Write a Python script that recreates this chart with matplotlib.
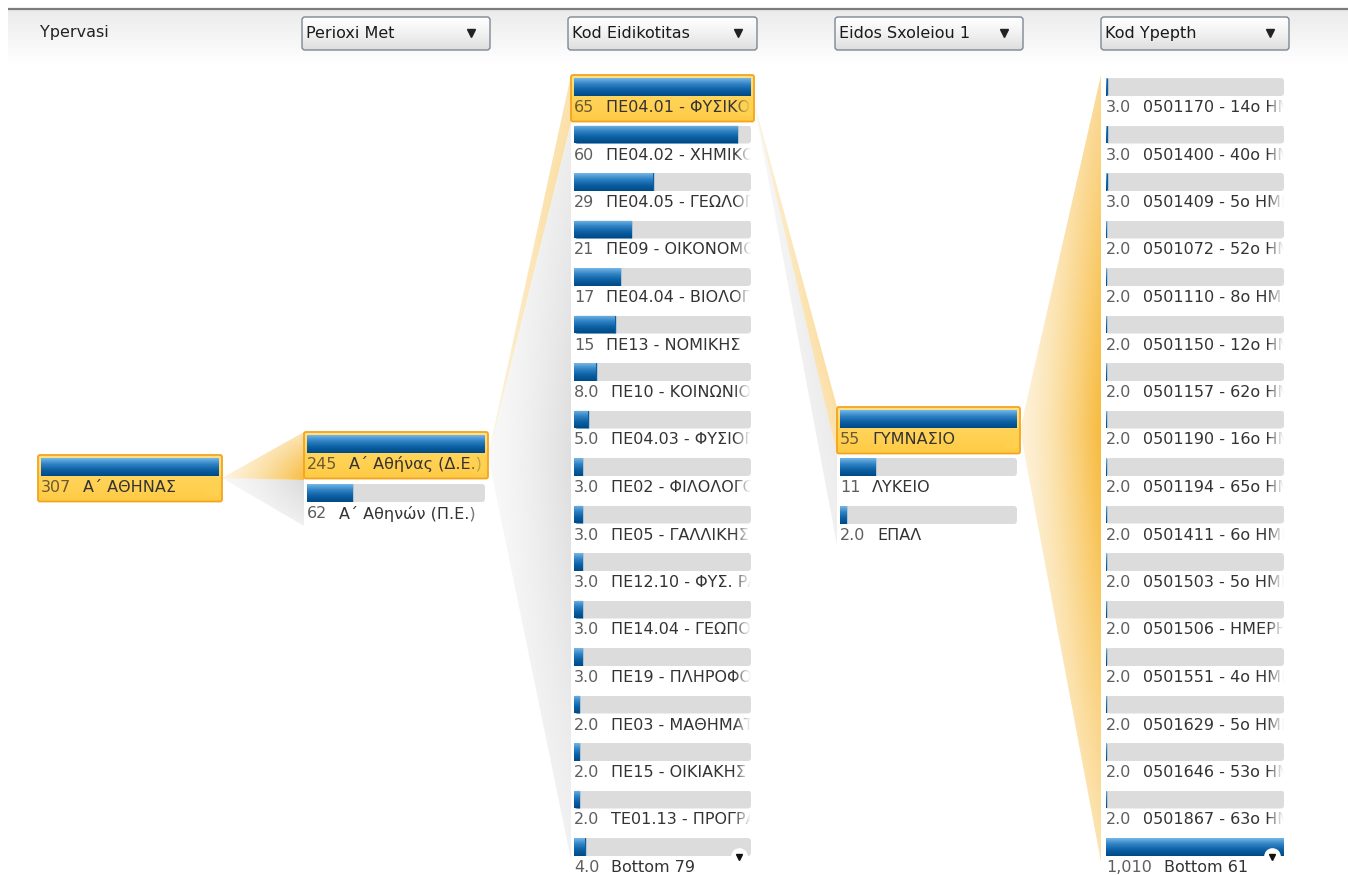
import numpy as np
import matplotlib
matplotlib.use("Agg")
import matplotlib.pyplot as plt
from matplotlib.patches import Polygon, FancyBboxPatch
from matplotlib.colors import to_rgb

# ---------------------------------------------------------------- data
level_names = ["Ypervasi", "Perioxi Met", "Kod Eidikotitas", "Eidos Sxoleiou 1", "Kod Ypepth"]

ypervasi_labels = ["Α΄ ΑΘΗΝΑΣ"]
ypervasi_values = [307]

perioxi_labels = ["Α΄ Αθήνας (Δ.Ε.)", "Α΄ Αθηνών (Π.Ε.)"]
perioxi_values = [245, 62]

eidikotita_labels = [
    "ΠΕ04.01 - ΦΥΣΙΚΟΙ", "ΠΕ04.02 - ΧΗΜΙΚΟΙ", "ΠΕ04.05 - ΓΕΩΛΟΓΟΙ",
    "ΠΕ09 - ΟΙΚΟΝΟΜΟΛΟΓΟΙ", "ΠΕ04.04 - ΒΙΟΛΟΓΟΙ", "ΠΕ13 - ΝΟΜΙΚΗΣ",
    "ΠΕ10 - ΚΟΙΝΩΝΙΟΛΟΓΟΙ", "ΠΕ04.03 - ΦΥΣΙΟΓΝΩΣΤΕΣ", "ΠΕ02 - ΦΙΛΟΛΟΓΟΙ",
    "ΠΕ05 - ΓΑΛΛΙΚΗΣ", "ΠΕ12.10 - ΦΥΣ. ΡΑΔΙΟΛΟΓΙΑΣ", "ΠΕ14.04 - ΓΕΩΠΟΝΟΙ",
    "ΠΕ19 - ΠΛΗΡΟΦΟΡΙΚΗΣ", "ΠΕ03 - ΜΑΘΗΜΑΤΙΚΟΙ", "ΠΕ15 - ΟΙΚΙΑΚΗΣ ΟΙΚΟΝΟΜΙΑΣ",
    "ΤΕ01.13 - ΠΡΟΓΡΑΜΜΑΤΙΣΤΕΣ", "Bottom 79",
]
eidikotita_values = [65, 60, 29, 21, 17, 15, 8, 5, 3, 3, 3, 3, 3, 2, 2, 2, 4]

sxoleio_labels = ["ΓΥΜΝΑΣΙΟ", "ΛΥΚΕΙΟ", "ΕΠΑΛ"]
sxoleio_values = [55, 11, 2]

ypepth_labels = [
    "0501170 - 14ο ΗΜΕΡΗΣΙΟ ΓΥΜΝΑΣΙΟ", "0501400 - 40ο ΗΜΕΡΗΣΙΟ ΓΥΜΝΑΣΙΟ",
    "0501409 - 5ο ΗΜΕΡΗΣΙΟ ΓΥΜΝΑΣΙΟ", "0501072 - 52ο ΗΜΕΡΗΣΙΟ ΓΥΜΝΑΣΙΟ",
    "0501110 - 8ο ΗΜΕΡΗΣΙΟ ΓΥΜΝΑΣΙΟ", "0501150 - 12ο ΗΜΕΡΗΣΙΟ ΓΥΜΝΑΣΙΟ",
    "0501157 - 62ο ΗΜΕΡΗΣΙΟ ΓΥΜΝΑΣΙΟ", "0501190 - 16ο ΗΜΕΡΗΣΙΟ ΓΥΜΝΑΣΙΟ",
    "0501194 - 65ο ΗΜΕΡΗΣΙΟ ΓΥΜΝΑΣΙΟ", "0501411 - 6ο ΗΜΕΡΗΣΙΟ ΓΥΜΝΑΣΙΟ",
    "0501503 - 5ο ΗΜΕΡΗΣΙΟ ΓΥΜΝΑΣΙΟ", "0501506 - ΗΜΕΡΗΣΙΟ ΓΥΜΝΑΣΙΟ",
    "0501551 - 4ο ΗΜΕΡΗΣΙΟ ΓΥΜΝΑΣΙΟ", "0501629 - 5ο ΗΜΕΡΗΣΙΟ ΓΥΜΝΑΣΙΟ",
    "0501646 - 53ο ΗΜΕΡΗΣΙΟ ΓΥΜΝΑΣΙΟ", "0501867 - 63ο ΗΜΕΡΗΣΙΟ ΓΥΜΝΑΣΙΟ",
    "Bottom 61",
]
ypepth_values = [3, 3, 3, 2, 2, 2, 2, 2, 2, 2, 2, 2, 2, 2, 2, 2, 1010]

# ---------------------------------------------------------------- layout (pixels)
W, H = 1348, 875
FONT = "DejaVu Sans"
FS = 11.5
BAR_H = 18
BLUE_STOPS = ["#74b6e6", "#2f83c4", "#0b5fa2", "#004a86"]
TRACK = "#dcdcdc"

columns = [
    dict(labels=ypervasi_labels, values=ypervasi_values, x=41, w=178, top=458, pitch=48, sel=0, more=False),
    dict(labels=perioxi_labels, values=perioxi_values, x=307, w=178, top=435, pitch=49, sel=0, more=False),
    dict(labels=eidikotita_labels, values=eidikotita_values, x=574, w=177, top=78, pitch=47.5, sel=0, more=True),
    dict(labels=sxoleio_labels, values=sxoleio_values, x=840, w=177, top=410, pitch=48, sel=0, more=False),
    dict(labels=ypepth_labels, values=ypepth_values, x=1106, w=178, top=78, pitch=47.5, sel=None, more=True),
]
dropdowns = [(302, 490), (568, 757), (835, 1023), (1101, 1289)]

fig = plt.figure(figsize=(W / 100, H / 100), dpi=100)
fig.patch.set_facecolor("white")
bg = fig.add_axes([0, 0, 1, 1])
bg.set_xlim(0, W)
bg.set_ylim(H, 0)
bg.axis("off")


def vgrad(colors, n=64):
    """Vertical RGB gradient image (rows top -> bottom) through the given stops."""
    cols = np.array([to_rgb(c) for c in colors])
    t = np.linspace(0, 1, n)
    pos = np.linspace(0, 1, len(cols))
    img = np.stack([np.interp(t, pos, cols[:, k]) for k in range(3)], axis=-1)
    return img[:, None, :]


def fill_gradient(ax, patch, colors, extent, zorder):
    ax.add_patch(patch)
    im = ax.imshow(vgrad(colors), extent=extent, origin="upper", aspect="auto",
                   interpolation="bilinear", zorder=zorder)
    im.set_clip_path(patch)
    return im


def fmt(v):
    return f"{v:,.0f}" if v >= 10 else f"{v:.1f}"


# ---------------------------------------------------------------- header strip
bg.imshow(vgrad(["#ebebeb", "#f5f5f5", "#ffffff"]), extent=(8, W, 64, 10), origin="upper",
          aspect="auto", interpolation="bilinear", zorder=0)
bg.plot([8, W], [9, 9], color="#7c7c7c", lw=1.6, zorder=1, solid_capstyle="butt")
bg.text(40, 33, level_names[0], fontsize=FS, family=FONT, color="#222222", va="center", zorder=2)
for (x0, x1), name in zip(dropdowns, level_names[1:]):
    box = FancyBboxPatch((x0, 17), x1 - x0, 33, boxstyle="round,pad=0,rounding_size=3",
                         facecolor="none", edgecolor="#7d8793", lw=1.0, zorder=3)
    fill_gradient(bg, box, ["#ffffff", "#f2f2f2", "#dedede"], (x0, x1, 50, 17), 2)
    bg.text(x0 + 4, 33.5, name, fontsize=FS, family=FONT, color="#1a1a1a", va="center", zorder=4)
    bg.plot([x1 - 19], [33], marker="v", ms=5.5, color="#222222", zorder=4)


# ---------------------------------------------------------------- connectors
def wedge(src, tx, y0, y1, rgb, amax, zorder=1):
    sx, sy = src
    pts = [(sx, sy), (tx, y0), (tx, y1)]
    poly = Polygon(pts, closed=True, facecolor="none", edgecolor="none")
    bg.add_patch(poly)
    ymin, ymax = min(sy, y0), max(sy, y1)
    nx, ny = 120, 300
    X, Y = np.meshgrid(np.linspace(sx, tx, nx), np.linspace(ymin, ymax, ny))
    fx = (X - sx) / (tx - sx)
    dmax = max(abs(y0 - sy), abs(y1 - sy), 1)
    fy = np.abs(Y - sy) / dmax
    a = amax * (0.2 + 0.8 * fx ** 1.4) * (1 - 0.6 * fy ** 1.2)
    img = np.zeros((ny, nx, 4))
    img[..., :3] = to_rgb(rgb)
    img[..., 3] = np.clip(a, 0, 1)
    im = bg.imshow(img, extent=(sx, tx, ymax, ymin), origin="upper", aspect="auto",
                   interpolation="bilinear", zorder=zorder)
    im.set_clip_path(poly)


ORANGE = "#f7b733"
GREY = "#c4c4c4"
wedge((222, 478), 304, 480, 526, GREY, 0.6)
wedge((222, 478), 304, 432, 480, ORANGE, 0.9)
wedge((488, 456), 571, 122, 860, GREY, 0.55)
wedge((488, 456), 571, 75, 122, ORANGE, 0.9)
wedge((753, 98), 837, 454, 545, GREY, 0.6)
wedge((753, 98), 837, 407, 454, ORANGE, 0.9)
wedge((1020, 430), 1101, 75, 862, ORANGE, 0.95)

# ---------------------------------------------------------------- columns
for col in columns:
    vals = np.array(col["values"], dtype=float)
    n = len(vals)
    vmax = vals.max()
    x, w = col["x"], col["w"]
    centers = col["top"] + BAR_H / 2 + np.arange(n) * col["pitch"]

    # selected node highlight box
    if col["sel"] is not None:
        i = col["sel"]
        y0 = col["top"] + i * col["pitch"] - 3
        hb = FancyBboxPatch((x - 3, y0), w + 6, 46.5, boxstyle="round,pad=0,rounding_size=2",
                            facecolor="none", edgecolor="#f2a51f", lw=1.3, zorder=6)
        fill_gradient(bg, hb, ["#ffe48c", "#ffd45a", "#ffcb45"], (x - 3, x + w + 3, y0 + 46.5, y0), 5)

    ax = fig.add_axes([x / W, 0, w / W, 1])
    ax.set_xlim(0, vmax)
    ax.set_ylim(H, 0)
    ax.axis("off")
    ax.patch.set_alpha(0)

    # grey tracks, then value bars; everything clipped to a rounded track outline
    tracks = ax.barh(centers, [vmax] * n, height=BAR_H, color=TRACK, zorder=1)
    bars = ax.barh(centers, vals, height=BAR_H, color="#0b5fa2", edgecolor="#0d5e9e",
                   lw=1.0, zorder=2)
    for t, b, c in zip(tracks, bars, centers):
        outline = FancyBboxPatch((x, c - BAR_H / 2), w, BAR_H,
                                 boxstyle="round,pad=0,rounding_size=3.5",
                                 transform=bg.transData, facecolor="none", edgecolor="none")
        t.set_clip_path(outline)
        b.set_clip_path(outline)
        im = ax.imshow(vgrad(BLUE_STOPS), extent=(0, b.get_width(), c + BAR_H / 2, c - BAR_H / 2),
                       origin="upper", aspect="auto", interpolation="bilinear", zorder=3)
        im.set_clip_path(b)
    ax.set_xlim(0, vmax)
    ax.set_ylim(H, 0)

    # labels below each bar, cut at the track edge with a soft fade
    for i, (lab, v, c) in enumerate(zip(col["labels"], vals, centers)):
        ty = c + BAR_H / 2 + 11.5
        selected = col["sel"] == i
        num = ax.text(0, ty, fmt(v), fontsize=FS, family=FONT, va="center", ha="left",
                      color="#5e5e5e" if not selected else "#6a5a35", clip_on=True, zorder=4)
        ax.annotate(lab, xy=(1, 0.5), xycoords=num, xytext=(8.5, 0), textcoords="offset points",
                    fontsize=FS, family=FONT, va="center", ha="left", color="#333333",
                    clip_on=True, zorder=4)
        fade_rgb = to_rgb("#ffd252") if selected else (1, 1, 1)
        fade = np.zeros((1, 32, 4))
        fade[..., :3] = fade_rgb
        fade[..., 3] = np.linspace(0, 1, 32) ** 0.8
        ax.imshow(fade, extent=(vmax * (1 - 16 / w), vmax, ty + 9, ty - 9), origin="upper",
                  aspect="auto", interpolation="bilinear", zorder=5)
    ax.set_xlim(0, vmax)
    ax.set_ylim(H, 0)

    if col["more"]:
        cy = centers[-1] + BAR_H / 2
        cx = vmax * (1 - 12 / w)
        ax.plot([cx], [cy], marker="o", ms=12, color="white", mec="none", zorder=6)
        ax.plot([cx], [cy + 1], marker="v", ms=5, color="#111111", zorder=7)

bg.set_xlim(0, W)
bg.set_ylim(H, 0)
fig.savefig("out.png", dpi=100, facecolor="white")
